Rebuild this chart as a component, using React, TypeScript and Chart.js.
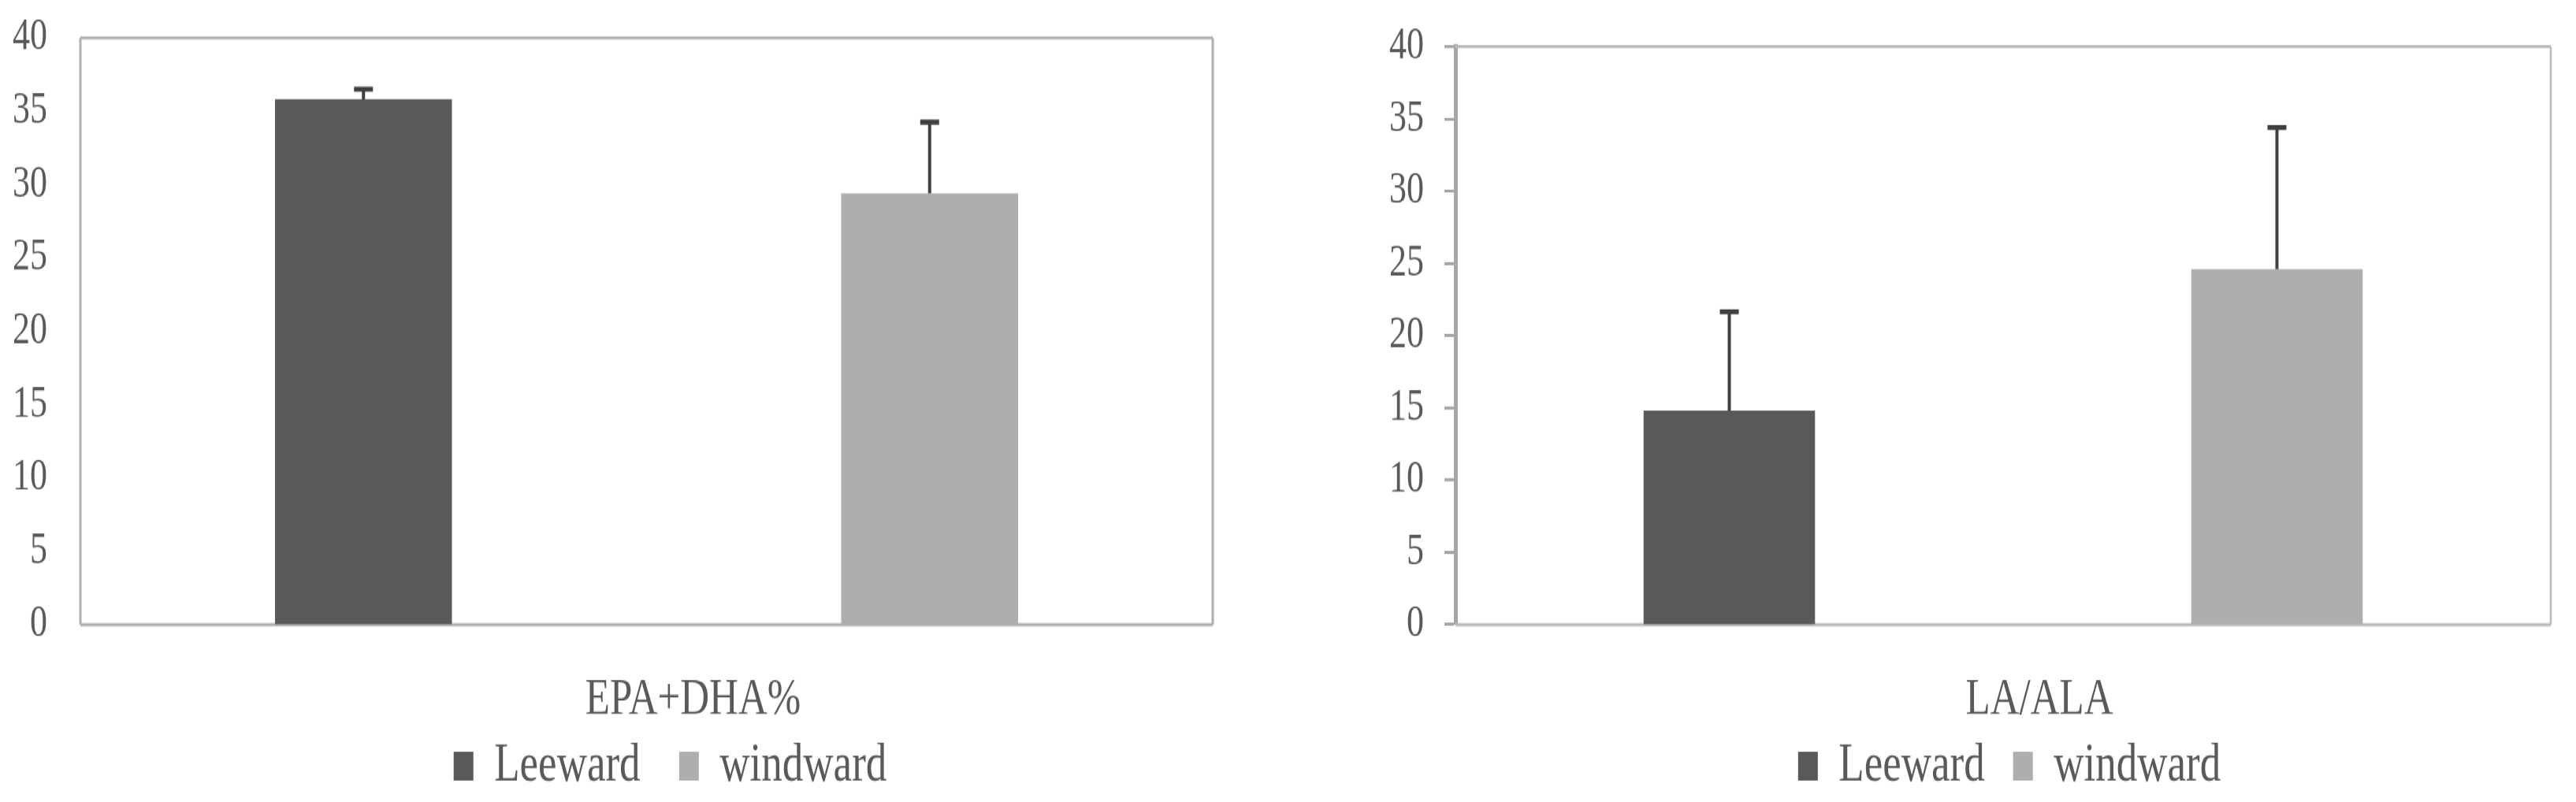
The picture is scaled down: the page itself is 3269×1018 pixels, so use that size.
import React, { useEffect, useRef } from "react";
import { Chart, registerables } from "chart.js";

Chart.register(...registerables);

// ---------- data ----------
const SERIES_NAMES = ["Leeward", "windward"];
const SERIES_COLORS = ["#595959", "#aeaeae"];
const Y_MIN = 0;
const Y_MAX = 40;
const Y_STEP = 5;

const EPA_CATEGORIES = ["EPA+DHA%"];
const EPA_LEEWARD = [35.8];
const EPA_WINDWARD = [29.4];
const EPA_LEEWARD_ERR = [0.7];
const EPA_WINDWARD_ERR = [4.85];

const LA_CATEGORIES = ["LA/ALA"];
const LA_LEEWARD = [14.8];
const LA_WINDWARD = [24.6];
const LA_LEEWARD_ERR = [6.85];
const LA_WINDWARD_ERR = [9.8];

// ---------- styling ----------
const SY = 1.3; // vertical stretch of the reference picture
const CANVAS_H = 800;
const FONT = "'Liberation Serif', 'Times New Roman', serif";
const TEXT = "#595959";

const framePlugin = {
  id: "frame",
  beforeDatasetsDraw(chart: any, _args: any, opts: any) {
    const { ctx, chartArea: a } = chart;
    ctx.save();
    ctx.strokeStyle = opts.color;
    (opts.sides || []).forEach((s: any) => {
      ctx.lineWidth = s.width;
      ctx.beginPath();
      if (s.side === "top") { ctx.moveTo(a.left, a.top); ctx.lineTo(a.right, a.top); }
      if (s.side === "bottom") { ctx.moveTo(a.left, a.bottom); ctx.lineTo(a.right, a.bottom); }
      if (s.side === "left") { ctx.moveTo(a.left, a.top); ctx.lineTo(a.left, a.bottom); }
      if (s.side === "right") { ctx.moveTo(a.right, a.top); ctx.lineTo(a.right, a.bottom); }
      ctx.stroke();
    });
    ctx.restore();
  },
};

const errorBarPlugin = {
  id: "errorBars",
  afterDatasetsDraw(chart: any, _args: any, opts: any) {
    const { ctx } = chart;
    const ys = chart.scales.y;
    chart.data.datasets.forEach((ds: any, di: number) => {
      const meta = chart.getDatasetMeta(di);
      const errs = (opts.errors || [])[di] || [];
      meta.data.forEach((bar: any, i: number) => {
        const v = ds.data[i];
        const e = errs[i];
        if (v == null || e == null) return;
        const x = bar.x;
        const y0 = ys.getPixelForValue(v);
        const y1 = ys.getPixelForValue(v + e);
        ctx.save();
        ctx.strokeStyle = opts.color;
        ctx.lineWidth = opts.stemWidth;
        ctx.beginPath();
        ctx.moveTo(x, y0);
        ctx.lineTo(x, y1);
        ctx.stroke();
        ctx.lineWidth = opts.capWidth;
        ctx.beginPath();
        ctx.moveTo(x - opts.capHalf, y1);
        ctx.lineTo(x + opts.capHalf, y1);
        ctx.stroke();
        ctx.restore();
      });
    });
  },
};

function makeConfig(p: any): any {
  return {
    type: "bar",
    data: {
      labels: p.categories,
      datasets: [
        {
          label: SERIES_NAMES[0],
          data: p.leeward,
          backgroundColor: SERIES_COLORS[0],
          borderWidth: 0,
          yAxisID: "y",
          categoryPercentage: 1,
          barPercentage: p.barPct,
        },
        {
          label: SERIES_NAMES[1],
          data: p.windward,
          backgroundColor: SERIES_COLORS[1],
          borderWidth: 0,
          yAxisID: "y",
          categoryPercentage: 1,
          barPercentage: p.barPct,
        },
      ],
    },
    options: {
      responsive: false,
      animation: false,
      devicePixelRatio: 1,
      layout: { padding: { left: p.padL, right: 0, top: p.padTop, bottom: 15.5 } },
      plugins: {
        legend: {
          position: "bottom",
          labels: {
            font: { family: FONT, size: 53 },
            color: TEXT,
            boxWidth: 25,
            boxHeight: 28,
            padding: 9.5,
            generateLabels: (chart: any) => {
              const items = (Chart as any).defaults.plugins.legend.labels.generateLabels(chart);
              return items.map((it: any, i: number) =>
                i < items.length - 1 ? { ...it, text: it.text + p.legendGap } : it
              );
            },
          },
        },
        tooltip: { enabled: false },
        errorBars: {
          errors: [p.leewardErr, p.windwardErr],
          color: "#404040",
          stemWidth: 4,
          capWidth: 5,
          capHalf: 12,
        },
        frame: { color: p.frameColor, sides: p.frameSides },
      },
      scales: {
        x: {
          type: "category",
          grid: {
            display: true,
            drawOnChartArea: false,
            drawTicks: true,
            tickLength: 46,
            color: "rgba(0,0,0,0)",
          },
          border: { display: false },
          ticks: {
            font: { family: FONT, size: 51, lineHeight: 1.1 },
            color: TEXT,
            padding: 0,
            labelOffset: p.labelOffset,
            maxRotation: 0,
            autoSkip: false,
          },
        },
        y: {
          position: "left",
          min: Y_MIN,
          max: Y_MAX,
          ticks: {
            stepSize: Y_STEP,
            font: { family: FONT, size: 44, lineHeight: 0.5 },
            color: TEXT,
            padding: p.tickPad,
          },
          grid: p.yGrid,
          border: p.yBorder,
          afterFit: (s: any) => {
            s.width = p.yW;
          },
        },
        yR: {
          position: "right",
          display: true,
          grid: { display: false },
          border: { display: false },
          ticks: { display: false },
          afterFit: (s: any) => {
            s.width = p.rW;
          },
        },
      },
    },
    plugins: [framePlugin, errorBarPlugin],
  };
}

const LEFT_PARAMS = {
  categories: EPA_CATEGORIES,
  leeward: EPA_LEEWARD,
  windward: EPA_WINDWARD,
  leewardErr: EPA_LEEWARD_ERR,
  windwardErr: EPA_WINDWARD_ERR,
  barPct: 0.3125,
  padL: 0,
  padTop: 36.9,
  yW: 102,
  rW: 162,
  tickPad: 2,
  labelOffset: 59,
  legendGap: "   ",
  yGrid: {
    display: true,
    drawOnChartArea: false,
    drawTicks: true,
    tickLength: 40,
    color: "rgba(0,0,0,0)",
    offset: false,
  },
  yBorder: { display: false },
  frameColor: "#b0b0b0",
  frameSides: [
    { side: "top", width: 3 },
    { side: "bottom", width: 3 },
    { side: "left", width: 3 },
    { side: "right", width: 3 },
  ],
};

const RIGHT_PARAMS = {
  categories: LA_CATEGORIES,
  leeward: LA_LEEWARD,
  windward: LA_WINDWARD,
  leewardErr: LA_LEEWARD_ERR,
  windwardErr: LA_WINDWARD_ERR,
  barPct: 0.313,
  padL: 100,
  padTop: 45.5,
  yW: 147,
  rW: 163,
  tickPad: 26,
  labelOffset: 46,
  legendGap: "  ",
  yGrid: {
    display: true,
    drawOnChartArea: false,
    drawTicks: true,
    tickLength: 14,
    tickWidth: 3,
    tickColor: "#a6a6a6",
    color: "#a6a6a6",
    offset: false,
  },
  yBorder: { display: true, color: "#a6a6a6", width: 5 },
  frameColor: "#bababa",
  frameSides: [
    { side: "top", width: 3 },
    { side: "bottom", width: 3 },
    { side: "right", width: 2.5 },
  ],
};

export default function App() {
  const leftRef = useRef<HTMLCanvasElement | null>(null);
  const rightRef = useRef<HTMLCanvasElement | null>(null);

  useEffect(() => {
    const charts: any[] = [];
    if (leftRef.current) charts.push(new Chart(leftRef.current, makeConfig(LEFT_PARAMS)));
    if (rightRef.current) charts.push(new Chart(rightRef.current, makeConfig(RIGHT_PARAMS)));
    return () => {
      charts.forEach((c) => c.destroy());
    };
  }, []);

  return (
    <div
      style={{
        position: "absolute",
        left: 0,
        top: 0,
        width: 3269,
        height: 1018,
        overflow: "hidden",
        background: "#ffffff",
      }}
    >
      <div
        style={{
          position: "absolute",
          left: 0,
          top: 0,
          width: 3269,
          height: CANVAS_H,
          transform: `scaleY(${SY})`,
          transformOrigin: "0 0",
        }}
      >
        <canvas
          ref={rightRef}
          width={1800}
          height={CANVAS_H}
          style={{ position: "absolute", left: 1600, top: 0 }}
        />
        <canvas
          ref={leftRef}
          width={1701}
          height={CANVAS_H}
          style={{ position: "absolute", left: 0, top: 0 }}
        />
      </div>
    </div>
  );
}
